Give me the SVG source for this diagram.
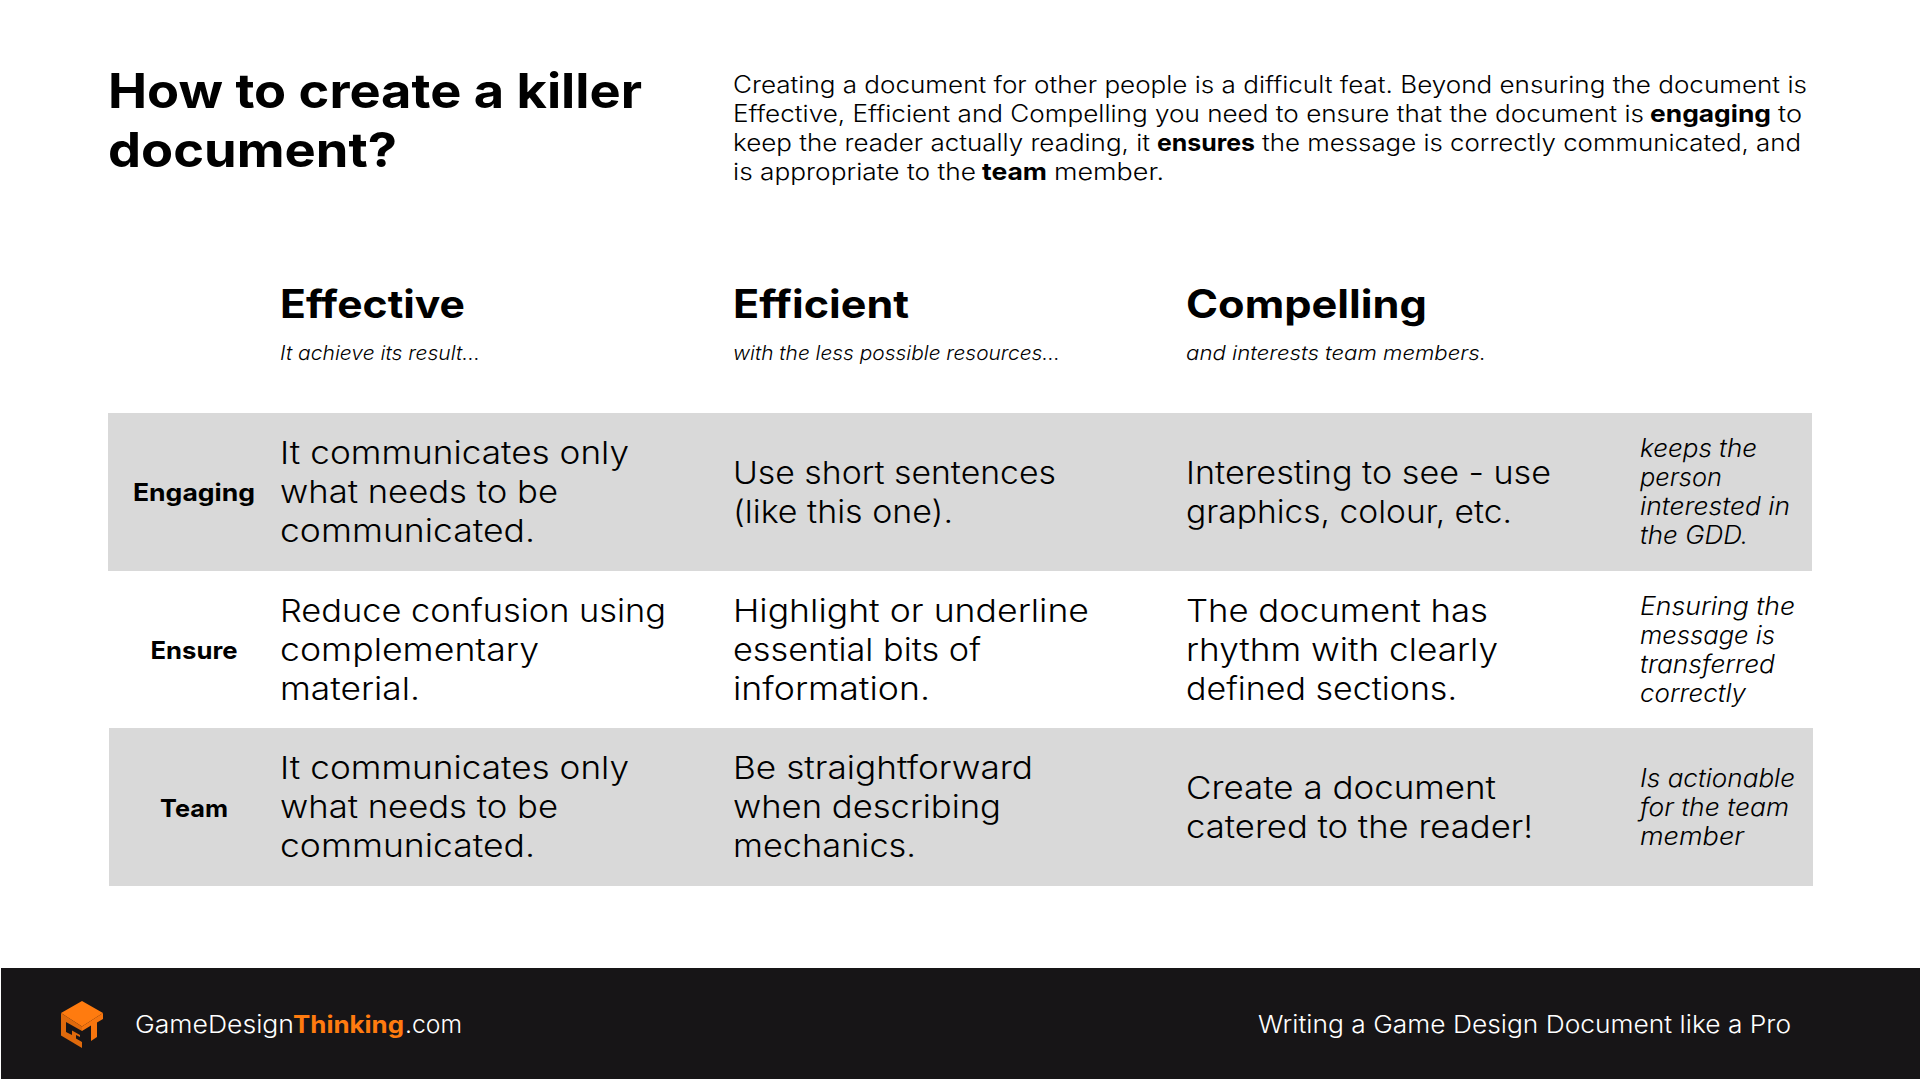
<svg xmlns="http://www.w3.org/2000/svg" width="1920" height="1080" viewBox="0 0 1920 1080">
<style>
text{font-family:"Inter","Noto Sans","Liberation Sans",sans-serif;fill:#000;white-space:pre}
.title{font-size:48px;font-weight:700}
.para{font-size:23.5px;font-weight:300}
.head{font-size:39px;font-weight:700}
.sub{font-size:20px;font-style:italic;font-weight:300}
.cell{font-size:31.5px;font-weight:300}
.label{font-size:24px;font-weight:700;text-anchor:middle}
.note{font-size:25px;font-style:italic;font-weight:300}
.foot{font-size:24px;fill:#fff;font-weight:300}
.row{fill:#d9d9d9}
text.b{font-weight:700}
text.accent{fill:#ff7b0f}
</style>
<rect width="1920" height="1080" fill="#fff"/>
<g id="title">
<text class="title" x="108" y="108" textLength="534" lengthAdjust="spacingAndGlyphs">How to create a killer</text>
<text class="title" x="108" y="167" textLength="289" lengthAdjust="spacingAndGlyphs">document?</text>
</g>
<g id="intro">
<text class="para" x="733" y="93" textLength="1074" lengthAdjust="spacingAndGlyphs">Creating a document for other people is a difficult feat. Beyond ensuring the document is</text>
<text class="para" x="733" y="122" textLength="911" lengthAdjust="spacingAndGlyphs">Effective, Efficient and Compelling you need to ensure that the document is</text>
<text class="para b" x="1650" y="122" textLength="121" lengthAdjust="spacingAndGlyphs">engaging</text>
<text class="para" x="1778" y="122" textLength="24" lengthAdjust="spacingAndGlyphs">to</text>
<text class="para" x="733" y="151" textLength="417" lengthAdjust="spacingAndGlyphs">keep the reader actually reading, it</text>
<text class="para b" x="1157" y="151" textLength="98" lengthAdjust="spacingAndGlyphs">ensures</text>
<text class="para" x="1262" y="151" textLength="539" lengthAdjust="spacingAndGlyphs">the message is correctly communicated, and</text>
<text class="para" x="733" y="180" textLength="243" lengthAdjust="spacingAndGlyphs">is appropriate to the</text>
<text class="para b" x="982" y="180" textLength="65" lengthAdjust="spacingAndGlyphs">team</text>
<text class="para" x="1054" y="180" textLength="110" lengthAdjust="spacingAndGlyphs">member.</text>
</g>
<g id="col-effective">
<text class="head" x="280" y="318" textLength="185" lengthAdjust="spacingAndGlyphs">Effective</text>
<text class="sub" x="280" y="360" textLength="200" lengthAdjust="spacingAndGlyphs">It achieve its result…</text>
</g>
<g id="col-efficient">
<text class="head" x="733" y="318" textLength="176" lengthAdjust="spacingAndGlyphs">Efficient</text>
<text class="sub" x="733" y="360" textLength="327" lengthAdjust="spacingAndGlyphs">with the less possible resources…</text>
</g>
<g id="col-compelling">
<text class="head" x="1186" y="318" textLength="241" lengthAdjust="spacingAndGlyphs">Compelling</text>
<text class="sub" x="1186" y="360" textLength="300" lengthAdjust="spacingAndGlyphs">and interests team members.</text>
</g>
<g id="row-engaging">
<rect class="row" x="108" y="413" width="1704" height="158"/>
<text class="label" x="194" y="501" textLength="122" lengthAdjust="spacingAndGlyphs">Engaging</text>
<text class="cell" x="280" y="464" textLength="349" lengthAdjust="spacingAndGlyphs">It communicates only</text>
<text class="cell" x="280" y="503" textLength="278" lengthAdjust="spacingAndGlyphs">what needs to be</text>
<text class="cell" x="280" y="542" textLength="255" lengthAdjust="spacingAndGlyphs">communicated.</text>
<text class="cell" x="733" y="484" textLength="323" lengthAdjust="spacingAndGlyphs">Use short sentences</text>
<text class="cell" x="733" y="523" textLength="220" lengthAdjust="spacingAndGlyphs">(like this one).</text>
<text class="cell" x="1186" y="484" textLength="365" lengthAdjust="spacingAndGlyphs">Interesting to see - use</text>
<text class="cell" x="1186" y="523" textLength="326" lengthAdjust="spacingAndGlyphs">graphics, colour, etc.</text>
<text class="note" x="1640" y="457" textLength="117" lengthAdjust="spacingAndGlyphs">keeps the</text>
<text class="note" x="1640" y="486" textLength="82" lengthAdjust="spacingAndGlyphs">person</text>
<text class="note" x="1640" y="515" textLength="150" lengthAdjust="spacingAndGlyphs">interested in</text>
<text class="note" x="1640" y="544" textLength="108" lengthAdjust="spacingAndGlyphs">the GDD.</text>
</g>
<g id="row-ensure">
<text class="label" x="194" y="659" textLength="87" lengthAdjust="spacingAndGlyphs">Ensure</text>
<text class="cell" x="280" y="622" textLength="386" lengthAdjust="spacingAndGlyphs">Reduce confusion using</text>
<text class="cell" x="280" y="661" textLength="259" lengthAdjust="spacingAndGlyphs">complementary</text>
<text class="cell" x="280" y="700" textLength="140" lengthAdjust="spacingAndGlyphs">material.</text>
<text class="cell" x="733" y="622" textLength="356" lengthAdjust="spacingAndGlyphs">Highlight or underline</text>
<text class="cell" x="733" y="661" textLength="248" lengthAdjust="spacingAndGlyphs">essential bits of</text>
<text class="cell" x="733" y="700" textLength="197" lengthAdjust="spacingAndGlyphs">information.</text>
<text class="cell" x="1186" y="622" textLength="302" lengthAdjust="spacingAndGlyphs">The document has</text>
<text class="cell" x="1186" y="661" textLength="312" lengthAdjust="spacingAndGlyphs">rhythm with clearly</text>
<text class="cell" x="1186" y="700" textLength="271" lengthAdjust="spacingAndGlyphs">defined sections.</text>
<text class="note" x="1640" y="615" textLength="155" lengthAdjust="spacingAndGlyphs">Ensuring the</text>
<text class="note" x="1640" y="644" textLength="135" lengthAdjust="spacingAndGlyphs">message is</text>
<text class="note" x="1640" y="673" textLength="135" lengthAdjust="spacingAndGlyphs">transferred</text>
<text class="note" x="1640" y="702" textLength="106" lengthAdjust="spacingAndGlyphs">correctly</text>
</g>
<g id="row-team">
<rect class="row" x="109" y="728" width="1704" height="158"/>
<text class="label" x="194" y="817" textLength="68" lengthAdjust="spacingAndGlyphs">Team</text>
<text class="cell" x="280" y="779" textLength="349" lengthAdjust="spacingAndGlyphs">It communicates only</text>
<text class="cell" x="280" y="818" textLength="278" lengthAdjust="spacingAndGlyphs">what needs to be</text>
<text class="cell" x="280" y="857" textLength="255" lengthAdjust="spacingAndGlyphs">communicated.</text>
<text class="cell" x="733" y="779" textLength="300" lengthAdjust="spacingAndGlyphs">Be straightforward</text>
<text class="cell" x="733" y="818" textLength="268" lengthAdjust="spacingAndGlyphs">when describing</text>
<text class="cell" x="733" y="857" textLength="183" lengthAdjust="spacingAndGlyphs">mechanics.</text>
<text class="cell" x="1186" y="799" textLength="310" lengthAdjust="spacingAndGlyphs">Create a document</text>
<text class="cell" x="1186" y="838" textLength="347" lengthAdjust="spacingAndGlyphs">catered to the reader!</text>
<text class="note" x="1640" y="787" textLength="155" lengthAdjust="spacingAndGlyphs">Is actionable</text>
<text class="note" x="1640" y="816" textLength="149" lengthAdjust="spacingAndGlyphs">for the team</text>
<text class="note" x="1640" y="845" textLength="104" lengthAdjust="spacingAndGlyphs">member</text>
</g>
<g id="footer">
<rect x="1" y="968" width="1919" height="111" fill="#171517"/>
<g id="logo">
<polygon points="82,1001 103,1013 82,1026.500 61,1013" fill="#ff7b0f"/>
<polygon points="61,1013 82,1026.500 82,1048 61,1035.500" fill="#e06a0c"/>
<polygon points="82,1026.500 103,1013 103,1019 97,1022.500 97,1037 91,1041 91,1025.500 82,1031" fill="#f7750e"/>
<polygon points="66,1022 82,1031 82,1042 76,1038.500 76,1035 80,1037 80,1035 72,1030.500 72,1035 66,1032" fill="#171517"/>
</g>
<text class="foot" x="135" y="1033" textLength="159" lengthAdjust="spacingAndGlyphs">GameDesign</text>
<text class="foot b accent" x="293" y="1033" textLength="111" lengthAdjust="spacingAndGlyphs">Thinking</text>
<text class="foot" x="405" y="1033" textLength="57" lengthAdjust="spacingAndGlyphs">.com</text>
<text class="foot" x="1258" y="1033" textLength="533" lengthAdjust="spacingAndGlyphs">Writing a Game Design Document like a Pro</text>
</g>
</svg>
